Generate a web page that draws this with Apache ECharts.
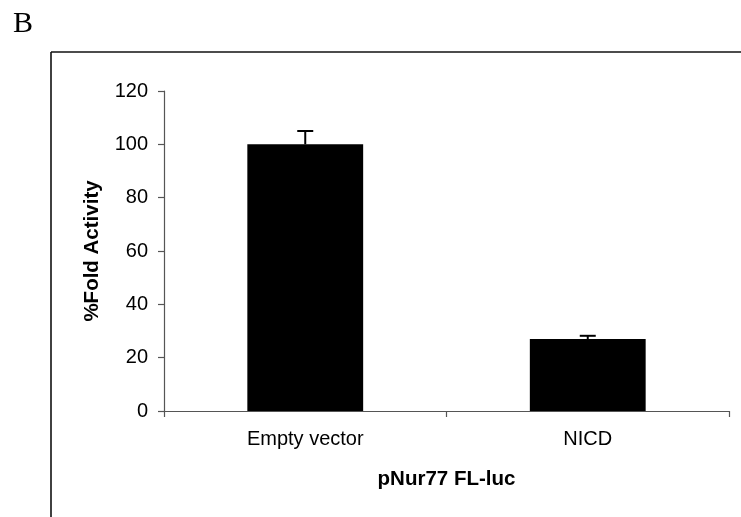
<!DOCTYPE html>
<html>
<head>
<meta charset="utf-8">
<script src="https://cdn.jsdelivr.net/npm/echarts@6/dist/echarts.min.js"></script>
<style>html,body{margin:0;padding:0;background:#fff;}#c{width:741px;height:517px;}</style>
</head>
<body>
<div id="c"></div>
<script>
const categories = ['Empty vector', 'NICD'];
const values = [100, 27];
const errors = [5, 1.2];
const yTicks = [0, 20, 40, 60, 80, 100, 120];

const chart = echarts.init(document.getElementById('c'), null, {renderer: 'canvas'});
const font = '"Liberation Sans", Arial, sans-serif';
const axisColor = '#555';

chart.setOption({
  animation: false,
  backgroundColor: '#fff',
  graphic: [
    {type: 'line', shape: {x1: 51, y1: 52, x2: 745, y2: 52}, style: {stroke: '#111', lineWidth: 1.6}},
    {type: 'line', shape: {x1: 51, y1: 52, x2: 51, y2: 520}, style: {stroke: '#111', lineWidth: 1.6}},
    {type: 'text', left: 13, top: 9, style: {text: 'B', font: '30px "Liberation Serif", "Times New Roman", serif', fill: '#000'}}
  ],
  grid: {left: 164, right: 12, top: 91, bottom: 106, containLabel: false},
  xAxis: {
    type: 'category',
    data: categories,
    boundaryGap: true,
    axisLine: {lineStyle: {color: axisColor, width: 1.2}},
    axisTick: {show: true, length: 6, alignWithLabel: false, lineStyle: {color: axisColor, width: 1.2}},
    axisLabel: {color: '#000', fontSize: 20, fontFamily: font, margin: 18},
    name: 'pNur77 FL-luc',
    nameLocation: 'middle',
    nameGap: 68,
    nameTextStyle: {color: '#000', fontSize: 20.5, fontWeight: 'bold', fontFamily: font, verticalAlign: 'middle'}
  },
  yAxis: {
    type: 'value',
    min: yTicks[0],
    max: yTicks[yTicks.length - 1],
    interval: 20,
    splitLine: {show: false},
    axisLine: {show: true, lineStyle: {color: axisColor, width: 1.2}},
    axisTick: {show: true, length: 6, lineStyle: {color: axisColor, width: 1.2}},
    axisLabel: {color: '#000', fontSize: 20, fontFamily: font, margin: 16},
    name: '%Fold Activity',
    nameLocation: 'middle',
    nameGap: 72,
    nameRotate: 90,
    nameTextStyle: {color: '#000', fontSize: 20.5, fontWeight: 'bold', fontFamily: font, verticalAlign: 'middle'}
  },
  series: [
    {
      type: 'bar',
      data: values,
      barWidth: '41%',
      itemStyle: {color: '#000'},
      z: 2
    },
    {
      type: 'custom',
      z: 3,
      data: values.map((v, i) => [i, v, errors[i]]),
      renderItem: function (params, api) {
        const i = api.value(0);
        const v = api.value(1);
        const e = api.value(2);
        const base = api.coord([i, v]);
        const top = api.coord([i, v + e]);
        const half = 8;
        return {
          type: 'group',
          children: [
            {type: 'line', shape: {x1: base[0], y1: base[1], x2: top[0], y2: top[1]}, style: {stroke: '#000', lineWidth: 2}},
            {type: 'line', shape: {x1: top[0] - half, y1: top[1], x2: top[0] + half, y2: top[1]}, style: {stroke: '#000', lineWidth: 2}}
          ]
        };
      }
    }
  ]
});
</script>
</body>
</html>
